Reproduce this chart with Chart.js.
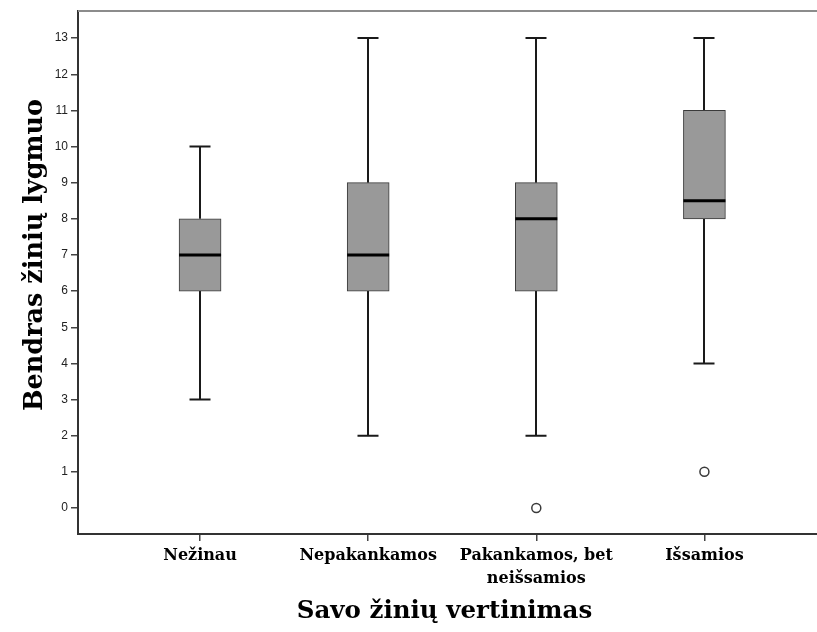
<!DOCTYPE html>
<html><head><meta charset="utf-8">
<script src="https://cdn.jsdelivr.net/npm/chart.js@4"></script>
<style>html,body{margin:0;padding:0;background:#fff}#wrap{width:817px;height:632px}</style>
</head><body><div id="wrap"><canvas id="c" width="817" height="632"></canvas></div>
<script>
const categories = ["Nežinau", "Nepakankamos", ["Pakankamos, bet", "neišsamios"], "Išsamios"];
const mins    = [3, 2, 2, 4];
const q1s     = [6, 6, 6, 8];
const medians = [7, 7, 8, 8.5];
const q3s     = [8, 9, 9, 11];
const maxs    = [10, 13, 13, 13];
const outliers = [{cat: 3, value: 0}, {cat: 4, value: 1}];
const yTicks = [0,1,2,3,4,5,6,7,8,9,10,11,12,13];
const xTitle = "Savo žinių vertinimas";
const yTitle = "Bendras žinių lygmuo";

const SERIF = '"DejaVu Serif", "Liberation Serif", serif';

const boxPlugin = {
  id: 'boxParts',
  beforeDatasetsDraw(chart) {
    const {ctx, scales: {x, y}} = chart;
    ctx.save();
    ctx.strokeStyle = '#1a1a1a';
    ctx.lineWidth = 2;
    for (let i = 0; i < categories.length; i++) {
      const cx = Math.round(x.getPixelForValue(i + 1));
      ctx.beginPath();
      ctx.moveTo(cx, y.getPixelForValue(mins[i])); ctx.lineTo(cx, y.getPixelForValue(q1s[i]));
      ctx.moveTo(cx, y.getPixelForValue(q3s[i])); ctx.lineTo(cx, y.getPixelForValue(maxs[i]));
      ctx.moveTo(cx - 10.5, y.getPixelForValue(mins[i])); ctx.lineTo(cx + 10.5, y.getPixelForValue(mins[i]));
      ctx.moveTo(cx - 10.5, y.getPixelForValue(maxs[i])); ctx.lineTo(cx + 10.5, y.getPixelForValue(maxs[i]));
      ctx.stroke();
    }
    ctx.restore();
  },
  afterDatasetsDraw(chart) {
    const {ctx, scales: {x, y}} = chart;
    ctx.save();
    ctx.strokeStyle = '#000';
    ctx.lineWidth = 3;
    for (let i = 0; i < categories.length; i++) {
      const cx = x.getPixelForValue(i + 1);
      const my = y.getPixelForValue(medians[i]);
      ctx.beginPath(); ctx.moveTo(cx - 21, my); ctx.lineTo(cx + 21, my); ctx.stroke();
    }
    ctx.restore();
  },
  afterDraw(chart) {
    const {ctx, chartArea: a} = chart;
    ctx.save();
    ctx.strokeStyle = '#8c8c8c';
    ctx.lineWidth = 2;
    ctx.beginPath(); ctx.moveTo(a.left, a.top); ctx.lineTo(chart.width, a.top); ctx.stroke();
    ctx.strokeStyle = '#333';
    ctx.beginPath(); ctx.moveTo(a.left, a.bottom); ctx.lineTo(chart.width, a.bottom); ctx.stroke();
    ctx.fillStyle = '#000';
    ctx.font = 'bold 25.5px ' + SERIF;
    ctx.textAlign = 'center'; ctx.textBaseline = 'middle';
    ctx.translate(35, 255);
    ctx.rotate(-Math.PI / 2);
    ctx.fillText(yTitle, 0, 0);
    ctx.restore();
  }
};

new Chart(document.getElementById('c'), {
  data: {
    datasets: [
      {
        type: 'bar',
        data: q1s.map((q, i) => ({x: i + 1, y: [q, q3s[i]]})),
        backgroundColor: '#999999',
        borderColor: '#3a3a3a',
        borderWidth: 1,
        borderSkipped: false,
        barThickness: 42,
        grouped: false
      },
      {
        type: 'scatter',
        data: outliers.map(o => ({x: o.cat, y: o.value})),
        pointRadius: 4.5,
        pointBackgroundColor: '#ffffff',
        pointBorderColor: '#3a3a3a',
        pointBorderWidth: 1.5
      }
    ]
  },
  options: {
    responsive: false,
    animation: false,
    layout: {padding: {top: 11, right: 0, left: 0, bottom: 0}},
    plugins: {legend: {display: false}, tooltip: {enabled: false}},
    scales: {
      x: {
        type: 'linear',
        offset: false,
        min: 0.274, max: 4.634,
        afterBuildTicks: s => { s.ticks = categories.map((c, i) => ({value: i + 1})); },
        afterFit: s => { s.height = 98; s.paddingRight = 0; s.paddingLeft = 0; },
        ticks: {
          callback: (v) => categories[v - 1],
          font: {family: SERIF, size: 16, weight: 'bold', lineHeight: 1.4},
          color: '#000',
          padding: 4,
          maxRotation: 0, autoSkip: false
        },
        grid: {offset: false, drawOnChartArea: false, drawTicks: true, tickLength: 7, color: '#444', lineWidth: 1.5},
        border: {display: true, color: '#333', width: 2},
        title: {display: true, text: xTitle, color: '#000',
          font: {family: SERIF, size: 24.5, weight: 'bold'},
          padding: {top: 10, bottom: 6}}
      },
      y: {
        type: 'linear',
        min: -0.72, max: 13.75,
        afterBuildTicks: s => { s.ticks = yTicks.map(v => ({value: v})); },
        afterFit: s => { s.width = 78; },
        ticks: {
          font: {family: '"Liberation Sans", Arial, sans-serif', size: 12},
          color: '#222',
          padding: 3
        },
        grid: {drawOnChartArea: false, drawTicks: true, tickLength: 7, color: '#444', lineWidth: 1.5},
        border: {display: true, color: '#333', width: 2}
      }
    }
  },
  plugins: [boxPlugin]
});
</script>
</body></html>
